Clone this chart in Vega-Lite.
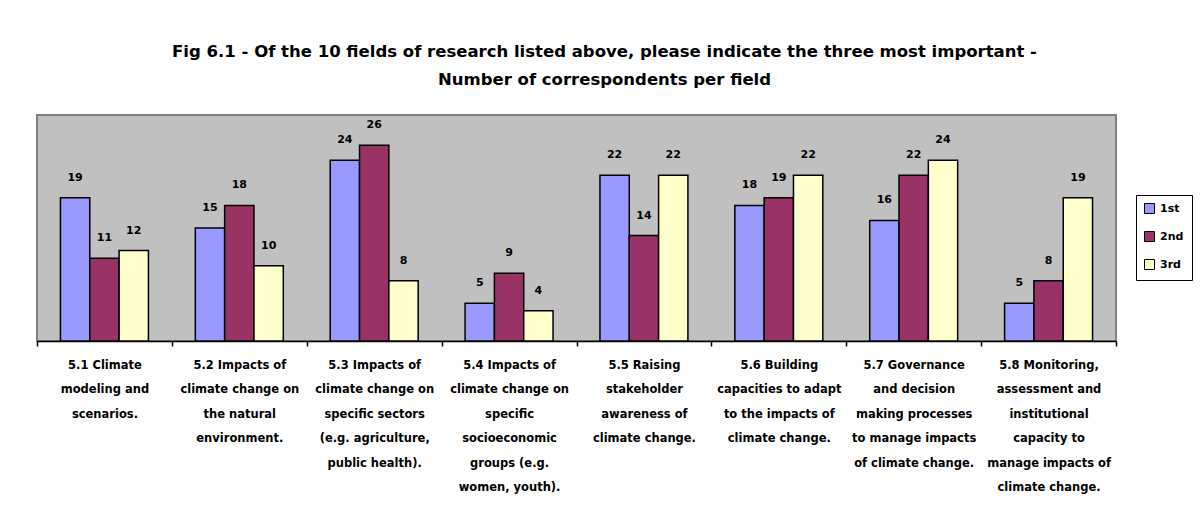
{
  "$schema": "https://vega.github.io/schema/vega-lite/v6.json",
  "autosize": {"type": "none"},
  "padding": {"left": 37, "top": 115, "right": 88, "bottom": 182},
  "width": 1079,
  "height": 226,
  "background": "white",
  "title": {
    "text": ["Fig 6.1 - Of the 10 fields of research listed above, please indicate the three most important -", "Number of correspondents per field"],
    "anchor": "middle",
    "dx": 28,
    "offset": 27,
    "font": "DejaVu Sans",
    "fontSize": 16.5,
    "fontWeight": "bold",
    "lineHeight": 28,
    "color": "black"
  },
  "data": {
    "values": [
      {"field": "5.1 Climate|modeling and|scenarios.", "rank": "1st", "count": 19},
      {"field": "5.1 Climate|modeling and|scenarios.", "rank": "2nd", "count": 11},
      {"field": "5.1 Climate|modeling and|scenarios.", "rank": "3rd", "count": 12},
      {"field": "5.2 Impacts of|climate change on|the natural|environment.", "rank": "1st", "count": 15},
      {"field": "5.2 Impacts of|climate change on|the natural|environment.", "rank": "2nd", "count": 18},
      {"field": "5.2 Impacts of|climate change on|the natural|environment.", "rank": "3rd", "count": 10},
      {"field": "5.3 Impacts of|climate change on|specific sectors|(e.g. agriculture,|public health).", "rank": "1st", "count": 24},
      {"field": "5.3 Impacts of|climate change on|specific sectors|(e.g. agriculture,|public health).", "rank": "2nd", "count": 26},
      {"field": "5.3 Impacts of|climate change on|specific sectors|(e.g. agriculture,|public health).", "rank": "3rd", "count": 8},
      {"field": "5.4 Impacts of|climate change on|specific|socioeconomic|groups (e.g.|women, youth).", "rank": "1st", "count": 5},
      {"field": "5.4 Impacts of|climate change on|specific|socioeconomic|groups (e.g.|women, youth).", "rank": "2nd", "count": 9},
      {"field": "5.4 Impacts of|climate change on|specific|socioeconomic|groups (e.g.|women, youth).", "rank": "3rd", "count": 4},
      {"field": "5.5 Raising|stakeholder|awareness of|climate change.", "rank": "1st", "count": 22},
      {"field": "5.5 Raising|stakeholder|awareness of|climate change.", "rank": "2nd", "count": 14},
      {"field": "5.5 Raising|stakeholder|awareness of|climate change.", "rank": "3rd", "count": 22},
      {"field": "5.6 Building|capacities to adapt|to the impacts of|climate change.", "rank": "1st", "count": 18},
      {"field": "5.6 Building|capacities to adapt|to the impacts of|climate change.", "rank": "2nd", "count": 19},
      {"field": "5.6 Building|capacities to adapt|to the impacts of|climate change.", "rank": "3rd", "count": 22},
      {"field": "5.7 Governance|and decision|making processes|to manage impacts|of climate change.", "rank": "1st", "count": 16},
      {"field": "5.7 Governance|and decision|making processes|to manage impacts|of climate change.", "rank": "2nd", "count": 22},
      {"field": "5.7 Governance|and decision|making processes|to manage impacts|of climate change.", "rank": "3rd", "count": 24},
      {"field": "5.8 Monitoring,|assessment and|institutional|capacity to|manage impacts of|climate change.", "rank": "1st", "count": 5},
      {"field": "5.8 Monitoring,|assessment and|institutional|capacity to|manage impacts of|climate change.", "rank": "2nd", "count": 8},
      {"field": "5.8 Monitoring,|assessment and|institutional|capacity to|manage impacts of|climate change.", "rank": "3rd", "count": 19}
    ]
  },
  "encoding": {
    "x": {
      "field": "field",
      "type": "nominal",
      "sort": null,
      "scale": {"paddingInner": 0, "paddingOuter": 0},
      "axis": {
        "title": null,
        "labelAngle": 0,
        "labelExpr": "split(datum.label, '|')",
        "labelBaseline": "top",
        "labelAlign": "center",
        "labelFont": "DejaVu Sans",
        "labelFontSize": 11.5,
        "labelFontWeight": "bold",
        "labelColor": "black",
        "labelLineHeight": 24.5,
        "labelPadding": 13,
        "labelLimit": 0,
        "labelOverlap": false,
        "labelBound": false,
        "tickBand": "extent",
        "tickColor": "black",
        "tickSize": 5,
        "tickWidth": 1.5,
        "domainColor": "black",
        "domainWidth": 1.5
      }
    },
    "xOffset": {
      "field": "rank",
      "type": "nominal",
      "scale": {"domain": ["1st", "2nd", "3rd"], "paddingInner": 0, "paddingOuter": 0.8}
    },
    "y": {
      "field": "count",
      "type": "quantitative",
      "scale": {"domain": [0, 30], "nice": false},
      "axis": null
    }
  },
  "layer": [
    {
      "mark": {"type": "bar", "stroke": "black", "strokeWidth": 1.5},
      "encoding": {
        "fill": {
          "field": "rank",
          "type": "nominal",
          "scale": {"domain": ["1st", "2nd", "3rd"], "range": ["#9999FF", "#993366", "#FFFFCC"]},
          "legend": {
            "title": null,
            "orient": "none",
            "legendX": 1099,
            "legendY": 80,
            "strokeColor": "black",
            "fillColor": "white",
            "padding": 8,
            "symbolType": "square",
            "symbolSize": 100,
            "symbolStrokeColor": "black",
            "symbolStrokeWidth": 1,
            "symbolOpacity": 1,
            "labelFont": "DejaVu Sans",
            "labelFontSize": 11,
            "labelFontWeight": "bold",
            "labelColor": "black",
            "labelOffset": 5,
            "rowPadding": 13
          }
        }
      }
    },
    {
      "mark": {"type": "text", "baseline": "bottom", "dy": -15, "font": "DejaVu Sans", "fontSize": 11, "fontWeight": "bold", "color": "black"},
      "encoding": {
        "text": {"field": "count", "type": "quantitative"}
      }
    }
  ],
  "config": {
    "view": {"fill": "#C0C0C0", "stroke": "#808080", "strokeWidth": 2}
  }
}
